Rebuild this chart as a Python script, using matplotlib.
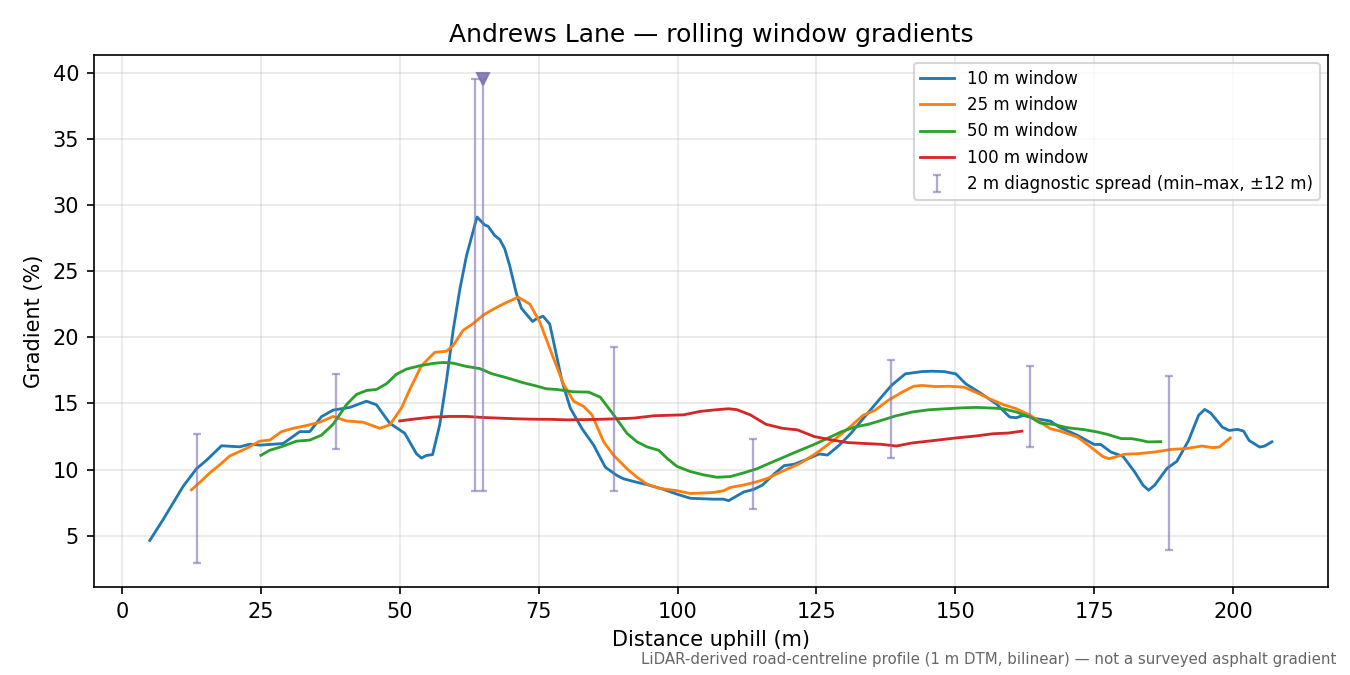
import numpy as np
import matplotlib
matplotlib.use("Agg")
import matplotlib.pyplot as plt

# ---- data -------------------------------------------------------------
w10_x = [5.0, 7.4, 11.0, 13.4, 15.2, 17.9, 21.2, 23.0, 24.8, 26.6, 29.0, 32.0, 33.8, 35.9,
         38.0, 41.0, 44.0, 45.8, 48.2, 50.0, 50.9, 53.0, 53.9, 54.8, 55.9, 57.2, 58.4, 59.6,
         60.8, 62.0, 63.9, 65.3, 65.9, 67.1, 68.0, 68.9, 69.8, 71.0, 71.9, 73.9, 74.6, 75.8,
         77.0, 77.9, 79.2, 80.7, 82.8, 84.9, 87.0, 89.1, 90.3, 92.1, 94.5, 97.5, 99.9, 102.3,
         104.1, 106.5, 108.3, 109.2, 111.9, 113.7, 115.3, 117.4, 119.2, 121.0, 123.4, 125.5,
         127.0, 129.0, 131.2, 133.1, 136.7, 138.5, 141.0, 144.0, 145.8, 148.0, 150.1, 151.9,
         154.3, 157.4, 159.8, 161.0, 162.2, 164.7, 167.1, 168.9, 172.0, 175.0, 176.2, 178.0,
         180.2, 182.3, 183.8, 184.8, 185.9, 188.1, 189.9, 192.0, 193.8, 194.9, 196.0, 198.1,
         199.3, 200.8, 201.9, 202.9, 204.8, 205.7, 207.0]
w10_y = [4.64, 6.22, 8.73, 10.06, 10.7, 11.8, 11.72, 11.92, 11.85, 11.9, 11.97, 12.87, 12.87, 14.0,
         14.5, 14.7, 15.17, 14.9, 13.5, 13.0, 12.74, 11.2, 10.87, 11.07, 11.13, 13.4, 16.7, 20.5,
         23.6, 26.15, 29.1, 28.5, 28.4, 27.7, 27.4, 26.7, 25.4, 23.3, 22.2, 21.2, 21.4, 21.6,
         21.0, 19.25, 16.7, 14.65, 13.1, 11.85, 10.18, 9.55, 9.3, 9.1, 8.86, 8.5, 8.14, 7.83,
         7.8, 7.76, 7.76, 7.65, 8.3, 8.5, 8.83, 9.67, 10.3, 10.4, 10.8, 11.18,
         11.1, 11.8, 12.73, 13.7, 15.48, 16.36, 17.24, 17.41, 17.44, 17.41, 17.24, 16.48,
         15.85, 14.97, 13.97, 13.92, 14.1, 13.84, 13.67, 13.17, 12.59, 11.9, 11.9, 11.33,
         11.0, 9.82, 8.82, 8.44, 8.82, 10.08, 10.63, 12.2, 14.1, 14.55, 14.27, 13.2,
         12.96, 13.04, 12.91, 12.2, 11.7, 11.78, 12.1]

w25_x = [12.5, 14.0, 15.8, 17.6, 19.4, 22.4, 24.8, 26.6, 28.7, 30.8, 33.2, 35.6, 38.0, 40.4,
         43.4, 46.4, 48.2, 50.3, 51.8, 53.9, 56.3, 58.4, 59.6, 61.4, 63.2, 65.0, 66.8, 68.6,
         71.3, 73.4, 75.2, 76.7, 77.6, 79.5, 81.3, 83.1, 84.6, 86.7, 88.5, 90.9, 92.7, 94.5,
         96.9, 99.9, 102.3, 104.1, 106.5, 108.3, 109.5, 111.9, 114.3, 116.2, 119.2, 122.2,
         125.2, 128.2, 130.7, 133.4, 135.5, 137.9, 140.4, 142.5, 144.0, 146.4, 148.9, 151.6,
         154.3, 156.2, 158.6, 161.0, 163.5, 167.1, 168.9, 172.0, 174.4, 176.5, 177.7, 180.5,
         182.9, 185.9, 189.0, 191.4, 194.4, 196.3, 197.5, 199.5]
w25_y = [8.47, 9.03, 9.75, 10.36, 11.03, 11.6, 12.15, 12.23, 12.87, 13.12, 13.33, 13.58, 14.02, 13.68,
         13.58, 13.12, 13.38, 14.65, 16.06, 17.85, 18.87, 18.95, 19.38, 20.53, 21.04, 21.68, 22.12, 22.52,
         23.04, 22.52, 21.17, 19.5, 18.5, 16.44, 15.17, 14.78, 14.14, 12.1, 11.08, 10.06, 9.42, 8.9,
         8.57, 8.4, 8.19, 8.22, 8.27, 8.4, 8.65, 8.83, 9.08, 9.34, 9.93, 10.5,
         11.3, 12.25, 13.1, 14.1, 14.47, 15.23, 15.85, 16.3, 16.36, 16.28, 16.3, 16.23,
         15.73, 15.35, 14.92, 14.6, 14.1, 13.09, 12.91, 12.46, 11.7, 11.0, 10.82, 11.16,
         11.2, 11.33, 11.53, 11.58, 11.78, 11.66, 11.7, 12.39]

w50_x = [25.0, 26.6, 29.0, 31.4, 33.8, 35.9, 38.0, 40.4, 42.2, 44.0, 45.8, 47.6, 49.4, 51.2,
         53.6, 56.0, 57.8, 59.6, 62.0, 64.4, 66.5, 69.2, 72.2, 74.6, 76.4, 78.2, 81.3, 84.0,
         86.1, 88.5, 90.9, 92.7, 94.5, 96.6, 98.2, 99.9, 102.3, 104.7, 107.1, 109.5, 111.9,
         114.3, 116.8, 119.2, 121.6, 124.6, 127.6, 129.4, 131.9, 134.3, 136.7, 139.2, 142.2,
         145.2, 148.3, 151.3, 153.7, 156.8, 158.6, 161.0, 163.5, 165.3, 167.7, 170.1, 173.2,
         175.6, 177.4, 179.9, 181.7, 182.9, 184.7, 187.0]
w50_y = [11.08, 11.46, 11.77, 12.15, 12.23, 12.6, 13.43, 14.91, 15.68, 15.98, 16.06, 16.49, 17.21, 17.6,
         17.85, 18.03, 18.1, 18.05, 17.8, 17.64, 17.26, 16.95, 16.57, 16.32, 16.11, 16.06, 15.88, 15.86,
         15.47, 14.14, 12.74, 12.1, 11.72, 11.46, 10.82, 10.24, 9.85, 9.6, 9.42, 9.47, 9.75,
         10.06, 10.52, 10.95, 11.38, 11.9, 12.48, 12.84, 13.22, 13.42, 13.72, 14.05, 14.35,
         14.52, 14.6, 14.67, 14.7, 14.65, 14.6, 14.35, 13.97, 13.52, 13.42, 13.17, 13.02,
         12.84, 12.66, 12.34, 12.34, 12.26, 12.09, 12.11]

w100_x = [50.0, 53.0, 56.0, 59.0, 62.0, 65.0, 68.0, 71.0, 74.0, 77.0, 80.1, 84.9, 89.1, 92.1,
          95.7, 101.1, 104.1, 107.1, 109.2, 110.7, 113.1, 115.9, 118.9, 121.6, 124.6, 127.6,
          130.7, 134.3, 136.7, 139.4, 142.2, 146.4, 150.1, 153.7, 156.8, 159.5, 162.0]
w100_y = [13.68, 13.84, 13.97, 14.02, 14.02, 13.94, 13.89, 13.84, 13.81, 13.8, 13.76, 13.79, 13.84, 13.89,
          14.07, 14.14, 14.4, 14.53, 14.6, 14.53, 14.14, 13.43, 13.12, 13.0, 12.5, 12.25,
          12.04, 11.96, 11.91, 11.78, 12.01, 12.21, 12.39, 12.54, 12.71, 12.76, 12.91]

spread_x = [13.5, 38.5, 63.5, 88.5, 113.5, 138.5, 163.5, 188.5]
spread_lo = [2.95, 11.59, 8.4, 8.4, 7.04, 10.88, 11.71, 3.92]
spread_hi = [12.69, 17.24, 39.55, 19.28, 12.33, 18.32, 17.86, 17.11]

peak_x = 65.0
peak_max = 39.55
peak_min = 8.4

series_labels = ["10 m window", "25 m window", "50 m window", "100 m window"]
series_colors = ["#1f77b4", "#ff7f0e", "#2ca02c", "#d62728"]

# ---- plot -------------------------------------------------------------
fig, ax = plt.subplots(figsize=(9, 4.5), dpi=150)
fig.subplots_adjust(left=0.0694, right=0.9837, top=0.919, bottom=0.1304)

for xs, ys, lab, col in zip([w10_x, w25_x, w50_x, w100_x],
                            [w10_y, w25_y, w50_y, w100_y],
                            series_labels, series_colors):
    ax.plot(xs, ys, color=col, lw=1.35, label=lab)

sx = np.array(spread_x)
lo = np.array(spread_lo)
hi = np.array(spread_hi)
mid = (lo + hi) / 2
spread_col = "#8172b3"
ax.errorbar(sx, mid, yerr=[mid - lo, hi - mid], fmt="none", ecolor=spread_col,
            alpha=0.6, elinewidth=1.1, capsize=2, capthick=1.1,
            label="2 m diagnostic spread (min\u2013max, \u00b112 m)")
ax.errorbar([peak_x], [peak_max], yerr=[[peak_max - peak_min], [0]], fmt="none",
            ecolor=spread_col, alpha=0.6, elinewidth=1.1, capsize=2, capthick=1.1)
ax.plot([peak_x], [peak_max], marker="v", ms=6, color=spread_col, alpha=0.9, ls="none")

ax.grid(True, alpha=0.3)
ax.set_xlabel("Distance uphill (m)")
ax.set_ylabel("Gradient (%)")
ax.set_title("Andrews Lane \u2014 rolling window gradients")
ax.set_xticks([0, 25, 50, 75, 100, 125, 150, 175, 200])
ax.set_yticks([5, 10, 15, 20, 25, 30, 35, 40])
ax.legend(loc="upper right", fontsize=8)

fig.text(0.99, 0.012,
         "LiDAR-derived road-centreline profile (1 m DTM, bilinear) \u2014 not a surveyed asphalt gradient",
         ha="right", va="bottom", fontsize=7.2, color="#666666")

fig.savefig("out.png", dpi=150)
